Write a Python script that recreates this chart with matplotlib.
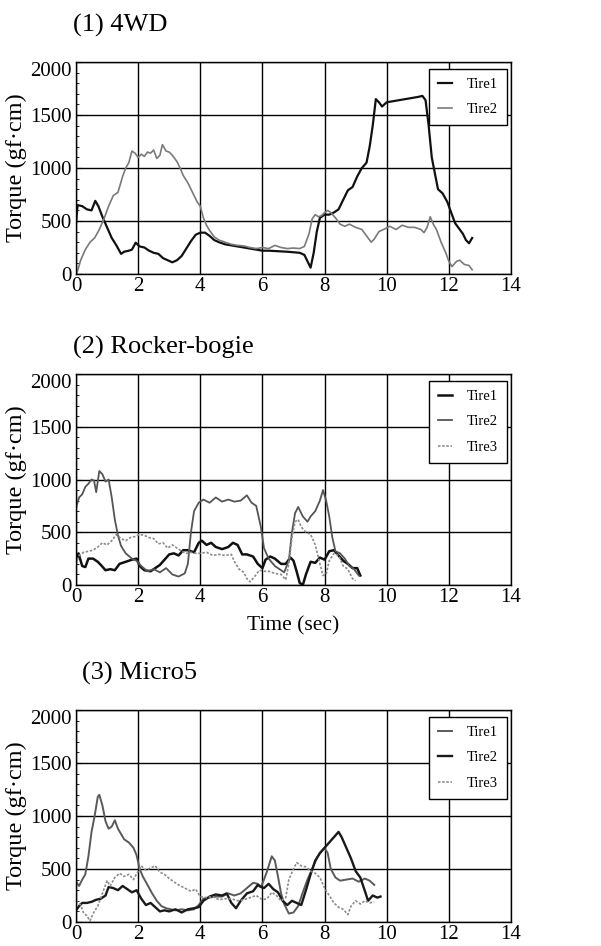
import matplotlib
matplotlib.use("Agg")
import matplotlib.pyplot as plt
from matplotlib.ticker import MultipleLocator

plt.rcParams['font.family'] = ['Liberation Serif', 'DejaVu Serif']

# ---------------- data ----------------
titles = ["(1) 4WD", "(2) Rocker-bogie", "(3) Micro5"]
xticks = [0, 2, 4, 6, 8, 10, 12, 14]
yticks = [0, 500, 1000, 1500, 2000]

# Panel 1: 4WD
p1_t1_t = [0.0, 0.05, 0.2, 0.35, 0.5, 0.62, 0.72, 0.85, 1.0, 1.15, 1.3, 1.45, 1.55, 1.7, 1.8, 1.92, 2.05, 2.2,
           2.35, 2.5, 2.65, 2.8, 2.95, 3.1, 3.25, 3.4, 3.55, 3.7, 3.85, 4.0, 4.15, 4.3, 4.45, 4.6, 4.8, 5.0,
           5.2, 5.4, 5.6, 5.8, 6.0, 6.2, 6.5, 6.8, 7.0, 7.2, 7.35, 7.45, 7.55, 7.65, 7.75, 7.85, 8.0, 8.15,
           8.3, 8.45, 8.6, 8.75, 8.9, 9.05, 9.2, 9.35, 9.45, 9.55, 9.65, 9.75, 9.85, 10.0, 10.2, 10.4, 10.6,
           10.8, 11.0, 11.15, 11.25, 11.35, 11.45, 11.55, 11.65, 11.8, 11.95, 12.05, 12.2, 12.35, 12.45,
           12.55, 12.65, 12.75]
p1_t1_v = [480, 650, 640, 610, 600, 690, 640, 540, 440, 340, 270, 190, 210, 220, 230, 295, 260, 250,
           220, 200, 190, 150, 130, 110, 130, 170, 240, 310, 370, 390, 390, 360, 320, 300, 280, 270,
           260, 250, 240, 230, 220, 220, 215, 210, 205, 200, 180, 120, 60, 200, 400, 530, 560, 560,
           580, 610, 700, 790, 820, 920, 1000, 1050, 1200, 1400, 1650, 1620, 1580, 1620, 1630, 1640, 1650,
           1660, 1670, 1680, 1640, 1400, 1100, 950, 800, 760, 680, 600, 480, 420, 380,
           320, 290, 340]
p1_t2_t = [0.0, 0.05, 0.15, 0.3, 0.45, 0.6, 0.75, 0.9, 1.05, 1.2, 1.35, 1.5, 1.6, 1.7, 1.8, 1.9, 2.0, 2.1,
           2.2, 2.3, 2.4, 2.5, 2.6, 2.7, 2.78, 2.9, 3.0, 3.1, 3.25, 3.35, 3.45, 3.6, 3.75, 3.9, 4.0, 4.1,
           4.2, 4.3, 4.45, 4.6, 4.8, 5.0, 5.2, 5.4, 5.6, 5.8, 6.0, 6.2, 6.4, 6.6, 6.8, 7.0, 7.2, 7.35,
           7.5, 7.6, 7.7, 7.8, 7.9, 8.0, 8.1, 8.2, 8.35, 8.5, 8.65, 8.8, 9.0, 9.2, 9.35, 9.5, 9.6, 9.75,
           9.9, 10.1, 10.3, 10.5, 10.7, 10.9, 11.1, 11.2, 11.3, 11.4, 11.5, 11.6, 11.75, 11.9, 12.0, 12.1,
           12.25, 12.35, 12.5, 12.65, 12.75]
p1_t2_v = [0, 30, 130, 230, 300, 340, 420, 520, 640, 740, 770, 920, 1000, 1050, 1160, 1140, 1100, 1130,
           1110, 1150, 1140, 1170, 1090, 1120, 1220, 1160, 1150, 1120, 1060, 1000, 930, 860, 770, 680, 640, 530,
           460, 410, 350, 320, 300, 280, 270, 265, 250, 240, 250, 240, 270, 250, 240, 245, 240, 260,
           380, 520, 560, 540, 550, 580, 600, 580, 530, 470, 450, 470, 440, 420, 360, 300, 330, 400,
           420, 450, 420, 460, 440, 440, 420, 390, 440, 540, 470, 420, 300, 200, 120, 70,
           120, 130, 90, 80, 40]

# Panel 2: Rocker-bogie
p2_t1_t = [0.0, 0.08, 0.2, 0.3, 0.4, 0.55, 0.7, 0.8, 0.95, 1.1, 1.25, 1.4, 1.6, 1.8, 1.95, 2.05, 2.2, 2.4,
           2.55, 2.7, 2.85, 3.0, 3.15, 3.3, 3.45, 3.6, 3.8, 3.95, 4.05, 4.2, 4.35, 4.5, 4.7, 4.9, 5.05,
           5.2, 5.35, 5.5, 5.7, 5.85, 6.0, 6.1, 6.25, 6.4, 6.6, 6.75, 6.9, 7.0, 7.1, 7.2, 7.3, 7.4,
           7.55, 7.7, 7.85, 8.0, 8.15, 8.3, 8.45, 8.6, 8.75, 8.9, 9.05, 9.15]
p2_t1_v = [230, 300, 180, 170, 250, 250, 220, 190, 140, 150, 140, 200, 220, 240, 250, 180, 140, 130,
           160, 190, 240, 290, 300, 280, 330, 330, 310, 400, 420, 380, 400, 360, 340, 360, 400,
           380, 290, 290, 270, 200, 160, 240, 270, 250, 200, 200, 260, 230, 130, 20, 0, 100,
           220, 210, 260, 240, 320, 330, 280, 230, 200, 160, 160, 90]
p2_t2_t = [0.0, 0.1, 0.2, 0.3, 0.4, 0.5, 0.58, 0.65, 0.75, 0.85, 0.95, 1.05, 1.15, 1.25, 1.35, 1.45, 1.6,
           1.8, 1.95, 2.1, 2.3, 2.5, 2.7, 2.9, 3.1, 3.3, 3.5, 3.6, 3.7, 3.8, 3.95, 4.1, 4.3, 4.5, 4.7,
           4.9, 5.1, 5.3, 5.5, 5.65, 5.8, 5.95, 6.05, 6.2, 6.4, 6.55, 6.7, 6.85, 6.95, 7.05, 7.15, 7.3,
           7.45, 7.55, 7.7, 7.85, 7.95, 8.05, 8.15, 8.25, 8.35, 8.5, 8.65, 8.8, 8.95, 9.1]
p2_t2_v = [730, 830, 860, 930, 960, 1000, 990, 880, 1080, 1050, 980, 1000, 830, 620, 470, 370, 300,
           250, 230, 180, 130, 150, 120, 160, 100, 80, 110, 200, 500, 700, 780, 810, 780, 830, 790,
           810, 790, 800, 850, 780, 750, 550, 350, 250, 180, 150, 120, 230, 500, 680, 740, 650,
           600, 650, 700, 800, 900, 800, 650, 450, 320, 300, 250, 180, 150, 90]
p2_t3_t = [0.0, 0.1, 0.25, 0.4, 0.55, 0.7, 0.85, 1.0, 1.15, 1.3, 1.45, 1.6, 1.75, 1.9, 2.05, 2.2, 2.35,
           2.5, 2.65, 2.8, 2.95, 3.1, 3.25, 3.4, 3.55, 3.7, 3.85, 4.0, 4.2, 4.4, 4.6, 4.8, 5.0, 5.1,
           5.25, 5.4, 5.5, 5.6, 5.75, 5.9, 6.05, 6.2, 6.4, 6.6, 6.75, 6.85, 6.95, 7.05, 7.15, 7.25,
           7.4, 7.55, 7.7, 7.85, 7.95, 8.05, 8.15, 8.3, 8.45, 8.6, 8.75, 8.9, 9.0]
p2_t3_v = [200, 280, 310, 320, 330, 360, 400, 380, 420, 480, 440, 420, 450, 460, 480, 470, 450,
           440, 390, 400, 350, 380, 350, 320, 300, 310, 300, 300, 310, 280, 290, 280, 290, 220,
           150, 120, 60, 30, 80, 140, 130, 130, 110, 100, 50, 200, 450, 600, 620, 550,
           500, 480, 380, 200, 90, 100, 230, 300, 280, 180, 150, 60, 40]

# Panel 3: Micro5
p3_t1_t = [0.0, 0.1, 0.2, 0.3, 0.4, 0.5, 0.6, 0.7, 0.75, 0.85, 0.95, 1.05, 1.15, 1.25, 1.35, 1.45, 1.55,
           1.7, 1.85, 1.95, 2.05, 2.15, 2.3, 2.45, 2.6, 2.75, 2.9, 3.05, 3.2, 3.4, 3.6, 3.8, 3.95, 4.1,
           4.3, 4.5, 4.7, 4.9, 5.1, 5.3, 5.5, 5.7, 5.85, 5.95, 6.05, 6.15, 6.3, 6.4, 6.5, 6.6, 6.7,
           6.85, 7.0, 7.15, 7.3, 7.45, 7.6, 7.75, 7.85, 8.0, 8.1, 8.2, 8.35, 8.5, 8.7, 8.9, 9.1, 9.3,
           9.45, 9.6]
p3_t1_v = [380, 340, 400, 450, 620, 850, 1000, 1180, 1200, 1100, 950, 880, 900, 960, 880, 830, 780,
           750, 700, 630, 500, 430, 350, 270, 200, 150, 130, 120, 110, 120, 110, 120, 160, 220,
           230, 240, 240, 270, 250, 270, 320, 370, 360, 330, 400, 480, 620, 580, 430, 270, 170,
           80, 90, 150, 280, 400, 500, 600, 650, 700, 650, 500, 420, 390, 400, 410, 380, 410,
           390, 350]
p3_t2_t = [0.0, 0.1, 0.2, 0.35, 0.5, 0.65, 0.8, 0.95, 1.05, 1.2, 1.35, 1.5, 1.65, 1.8, 1.95, 2.1, 2.25,
           2.4, 2.55, 2.7, 2.85, 3.0, 3.2, 3.4, 3.6, 3.8, 3.95, 4.1, 4.3, 4.5, 4.7, 4.85, 5.0, 5.15,
           5.3, 5.5, 5.7, 5.85, 5.95, 6.05, 6.2, 6.35, 6.5, 6.65, 6.8, 6.95, 7.1, 7.25, 7.4, 7.55,
           7.7, 7.85, 8.0, 8.15, 8.3, 8.45, 8.55, 8.7, 8.85, 9.0, 9.15, 9.3, 9.4, 9.55, 9.7, 9.8]
p3_t2_v = [110, 150, 180, 180, 190, 210, 220, 250, 330, 320, 300, 340, 310, 280, 300, 220, 160,
           180, 140, 100, 110, 100, 120, 90, 120, 130, 140, 200, 240, 260, 250, 270, 180, 130,
           200, 270, 290, 350, 330, 320, 360, 310, 280, 200, 160, 200, 180, 160, 300, 450,
           580, 650, 700, 750, 800, 850, 800, 700, 600, 480, 420, 290, 200, 250, 230, 240]
p3_t3_t = [0.0, 0.15, 0.25, 0.35, 0.45, 0.55, 0.7, 0.85, 1.0, 1.1, 1.25, 1.4, 1.55, 1.7, 1.85, 2.0, 2.1,
           2.25, 2.4, 2.55, 2.7, 2.85, 3.0, 3.15, 3.3, 3.5, 3.7, 3.85, 4.0, 4.2, 4.4, 4.6, 4.8, 5.0,
           5.2, 5.4, 5.6, 5.8, 6.0, 6.15, 6.3, 6.45, 6.6, 6.75, 6.85, 7.0, 7.1, 7.25, 7.4, 7.55, 7.7,
           7.85, 8.0, 8.15, 8.3, 8.45, 8.6, 8.75, 8.85, 9.0, 9.15, 9.3, 9.45, 9.6]
p3_t3_v = [200, 160, 80, 60, 10, 80, 150, 270, 390, 340, 420, 460, 430, 450, 400, 480, 530,
           490, 510, 530, 470, 450, 410, 380, 350, 320, 290, 310, 240, 230, 240, 210, 220, 220,
           200, 210, 230, 250, 210, 220, 280, 250, 200, 230, 400, 500, 560, 530, 520, 480, 460,
           420, 320, 250, 180, 140, 120, 70, 150, 200, 170, 200, 180, 190]

panels = [
    [("Tire1", p1_t1_t, p1_t1_v), ("Tire2", p1_t2_t, p1_t2_v)],
    [("Tire1", p2_t1_t, p2_t1_v), ("Tire2", p2_t2_t, p2_t2_v), ("Tire3", p2_t3_t, p2_t3_v)],
    [("Tire1", p3_t1_t, p3_t1_v), ("Tire2", p3_t2_t, p3_t2_v), ("Tire3", p3_t3_t, p3_t3_v)],
]

styles = [
    [dict(color="#111111", lw=1.6, ls="-"), dict(color="#7a7a7a", lw=1.2, ls="-")],
    [dict(color="#111111", lw=1.8, ls="-"), dict(color="#555555", lw=1.3, ls="-"),
     dict(color="#8c8c8c", lw=1.2, ls=(0, (1.5, 1)))],
    [dict(color="#5a5a5a", lw=1.4, ls="-"), dict(color="#1a1a1a", lw=1.7, ls="-"),
     dict(color="#8c8c8c", lw=1.2, ls=(0, (1.5, 1)))],
]

# ---------------- layout ----------------
W, H = 601, 946
fig = plt.figure(figsize=(W / 100, H / 100), dpi=100)

ax_px = [(62, 274), (374, 585), (710, 922)]   # top, bottom in pixels
left_px, right_px = 76, 511
title_pos = [(73, 25), (73, 347), (82, 673)]

for i, (top, bot) in enumerate(ax_px):
    ax = fig.add_axes([left_px / W, 1 - bot / H, (right_px - left_px) / W, (bot - top) / H])
    for (lab, t, v), st in zip(panels[i], styles[i]):
        ax.plot(t, v, label=lab, **st)
    ax.set_xlim(0, 14)
    ax.set_ylim(0, 2000)
    ax.set_xticks(xticks)
    ax.set_yticks(yticks)
    ax.yaxis.set_minor_locator(MultipleLocator(100))
    ax.grid(True, which="major", color="black", lw=1.0)
    ax.tick_params(which="both", direction="in", labelsize=15, pad=3)
    ax.tick_params(axis="x", pad=2, length=0)
    ax.tick_params(axis="y", which="major", length=4)
    ax.tick_params(axis="y", which="minor", length=2.5)
    for s in ax.spines.values():
        s.set_linewidth(1.0)
        s.set_color("black")
    ylabs = ax.get_yticklabels()
    ylabs[-1].set_va("top")
    ax.set_ylabel("Torque (gf·cm)", fontsize=17.5, labelpad=2)
    leg = ax.legend(loc="upper right", bbox_to_anchor=(0.99, 0.968), borderaxespad=0,
                    fancybox=False, framealpha=1, edgecolor="black", fontsize=10.5,
                    handlelength=1.0, handletextpad=1.0, labelspacing=0.85, borderpad=0.6)
    leg.get_frame().set_linewidth(1.0)
    tx, ty = title_pos[i]
    fig.text(tx / W, 1 - ty / H, titles[i], fontsize=19, ha="left", va="center")
    if i == 1:
        ax.set_xlabel("Time (sec)", fontsize=15.5, labelpad=7)

fig.savefig("out.png", dpi=100)
